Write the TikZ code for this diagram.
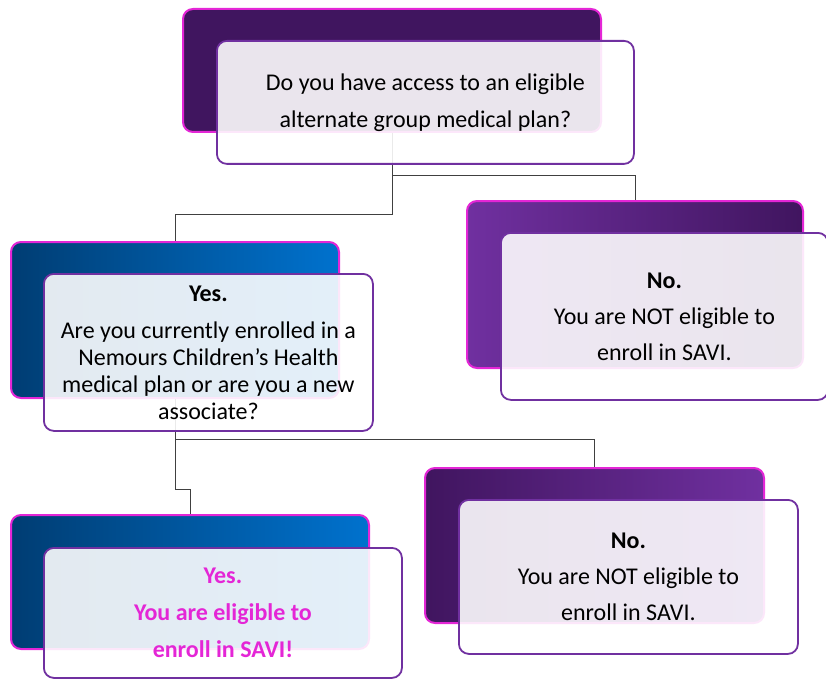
\documentclass[tikz,border=0pt]{standalone}
\usepackage{fontspec}
\setmainfont{Carlito}
\usetikzlibrary{positioning}

\definecolor{plumdark}{RGB}{64,21,95}
\definecolor{plum}{RGB}{112,48,160}
\definecolor{navy}{RGB}{0,61,115}
\definecolor{azure}{RGB}{0,114,206}
\definecolor{edgepink}{RGB}{228,38,214}
\definecolor{linegray}{RGB}{64,64,64}

\begin{document}
\begin{tikzpicture}[x=1pt,y=-1pt,
	back/.style={rounded corners=3.5mm,draw=edgepink,line width=2pt,anchor=north west,inner sep=0pt},
	front/.style={rounded corners=3.5mm,draw=plum,line width=1.8pt,fill=white,fill opacity=0.89,text opacity=1,align=center,inner sep=0pt},
	link/.style={draw=linegray,line width=0.9pt}]

	\useasboundingbox (0,0) rectangle (826,679);

	% back cards
	\node[back,fill=plumdark,minimum width=418,minimum height=123] (q1back) at (182,8) {};
	\node[back,left color=navy,right color=azure,minimum width=328,minimum height=156] (yes1back) at (10,241) {};
	\node[back,left color=plum,right color=plumdark,minimum width=336,minimum height=167] (no1back) at (466,200) {};
	\node[back,left color=navy,right color=azure,minimum width=358,minimum height=134] (yes2back) at (10,514) {};
	\node[back,left color=plumdark,right color=plum,minimum width=339,minimum height=155] (no2back) at (424,467) {};

	\draw[link] (q1back.south) -- ++(0,42) -| (no1back.north);
	\draw[link] (q1back.south) -- ++(0,81) -| (yes1back.north);
	\draw[link] (yes1back.south) -- ++(0,40) -| (no2back.north);
	\draw[link] (yes1back.south) -- ++(0,90) -| (yes2back.north);

	% front cards
	\node[front,minimum width=417,minimum height=123,font=\fontsize{24}{37}\selectfont] (q1)
		[below right=32pt and 34pt of q1back.north west]
		{Do you have access to an eligible\\alternate group medical plan?};
	\node[front,minimum width=329,minimum height=157,font=\fontsize{24}{27}\selectfont] (yes1)
		[below right=32pt and 33pt of yes1back.north west]
		{\textbf{Yes.}\\[10pt]Are you currently enrolled in a\\Nemours Children’s Health\\medical plan or are you a new\\associate?};
	\node[front,minimum width=327,minimum height=167,font=\fontsize{24}{36}\selectfont] (no1)
		[below right=32pt and 34pt of no1back.north west]
		{\textbf{No.}\\You are NOT eligible to\\enroll in SAVI.};
	\node[front,minimum width=358,minimum height=130,text=edgepink,font=\fontsize{24}{37}\selectfont\bfseries] (yes2)
		[below right=33pt and 33pt of yes2back.north west]
		{Yes.\\You are eligible to\\enroll in SAVI!};
	\node[front,minimum width=339,minimum height=154,font=\fontsize{24}{36}\selectfont] (no2)
		[below right=32pt and 34pt of no2back.north west]
		{\textbf{No.}\\You are NOT eligible to\\enroll in SAVI.};

\end{tikzpicture}
\end{document}
